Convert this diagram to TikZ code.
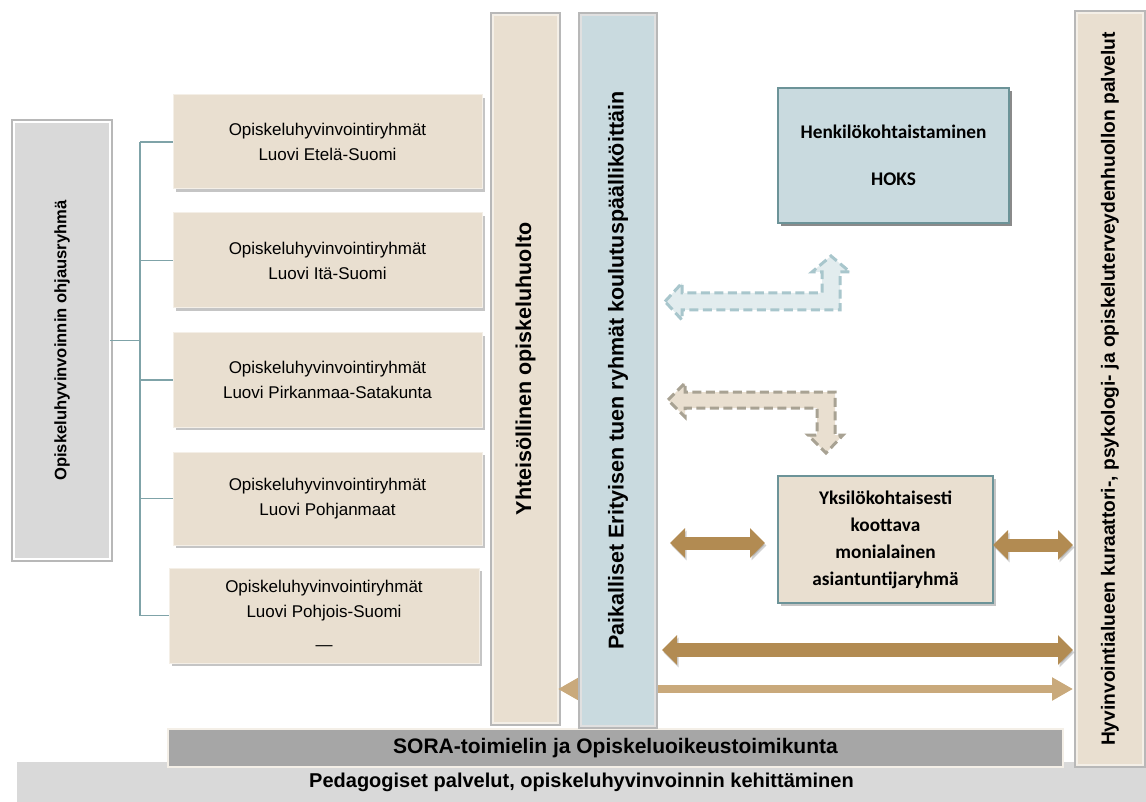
\documentclass[tikz,border=0pt]{standalone}
\usepackage{fontspec}
\setmainfont{Liberation Sans}
\newfontfamily\calib{Carlito}
\usepackage{graphicx}
\usetikzlibrary{shadows,arrows.meta,calc}

\definecolor{beige}{RGB}{233,223,208}
\definecolor{beigeline}{RGB}{244,239,231}
\definecolor{bluebox}{RGB}{201,218,223}
\definecolor{tealline}{RGB}{108,147,152}
\definecolor{treec}{RGB}{127,163,168}
\definecolor{goldc}{RGB}{178,139,82}
\definecolor{tanc}{RGB}{201,169,123}
\definecolor{soragray}{RGB}{166,166,166}
\definecolor{lgray}{RGB}{217,217,217}
\definecolor{dashblue}{RGB}{168,198,204}
\definecolor{dashbluefill}{RGB}{226,236,238}
\definecolor{dashtan}{RGB}{168,162,147}

\begin{document}
\begin{tikzpicture}[x=1pt,y=-1pt,
  every node/.style={inner sep=0pt, outer sep=0pt, align=center},
  halo/.style={preaction={draw=black!28, line width=6pt}},
  dshadow/.style={drop shadow={shadow xshift=2.5pt, shadow yshift=-3pt, opacity=.5, fill=black!45}},
  regbox/.style={fill=beige, draw=beigeline, line width=1pt, dshadow, font=\fontsize{17}{25}\selectfont},
  ctrlbox/.style={fill=lgray, draw=white, line width=2pt, halo, font=\bfseries\fontsize{16.6}{20}\selectfont},
  yhtbox/.style={fill=beige, draw=beigeline, line width=2pt, halo, font=\bfseries\fontsize{21.5}{26}\selectfont},
  paibox/.style={fill=bluebox, draw=black!12, line width=1.5pt, halo, font=\bfseries\fontsize{21.5}{26}\selectfont},
  hyvbox/.style={fill=beige, draw=beigeline, line width=2pt, halo, font=\bfseries\fontsize{19.2}{24}\selectfont},
  hoksbox/.style={fill=bluebox, draw=tealline, line width=1.2pt,
    drop shadow={shadow xshift=3pt, shadow yshift=-3pt, opacity=.7, fill=black!65},
    font=\calib\bfseries\fontsize{19.3}{47}\selectfont},
  yksbox/.style={fill=beige, draw=tealline, line width=1.5pt,
    drop shadow={shadow xshift=2.5pt, shadow yshift=-3pt, opacity=.45, fill=black!50},
    font=\calib\bfseries\fontsize{19.3}{27}\selectfont},
  sorabar/.style={fill=soragray, draw=beigeline, line width=2pt, font=\bfseries\fontsize{21}{25}\selectfont},
  pedbar/.style={fill=lgray, font=\bfseries\fontsize{20}{24}\selectfont},
  treeline/.style={draw=treec, line width=1.2pt},
  goldarr/.style={draw=goldc, line width=13pt, {Triangle[width=29pt,length=15pt]}-{Triangle[width=29pt,length=15pt]},
    preaction={draw=black!45, opacity=.4, transform canvas={shift={(1.5pt,-2.5pt)}}}},
  thinarr/.style={draw=tanc, line width=8pt, {Triangle[width=22pt,length=21pt]}-{Triangle[width=22pt,length=21pt]}},
  dashblue/.style={fill=dashbluefill, draw=dashblue, line width=3pt, dash pattern=on 9pt off 4.5pt, line join=miter},
  dashtan/.style={fill=beige, draw=dashtan, line width=3pt, dash pattern=on 9pt off 4.5pt, line join=miter}
]
\useasboundingbox (0,0) rectangle (1146,802);
\fill[white] (0,0) rectangle (1146,802);

% bottom bars
\node[pedbar, minimum width=1129pt, minimum height=40pt] (ped) at (581.5,782)
  {Pedagogiset palvelut, opiskeluhyvinvoinnin kehittäminen};
\node[sorabar, minimum width=895pt, minimum height=38pt] (sora) at (615.5,748)
  {SORA-toimielin ja Opiskeluoikeustoimikunta};

% steering group
\node[ctrlbox, minimum width=96pt, minimum height=437pt] (ctrl) at (62,340.5)
  {\rotatebox{90}{Opiskeluhyvinvoinnin ohjausryhmä}};

% regional groups
\node[regbox, minimum width=309pt, minimum height=94pt] (g1) at (327.5,142)
  {Opiskeluhyvinvointiryhmät\\Luovi Etelä-Suomi};
\node[regbox, minimum width=309pt, minimum height=95pt] (g2) at (327.5,260.5)
  {Opiskeluhyvinvointiryhmät\\Luovi Itä-Suomi};
\node[regbox, minimum width=309pt, minimum height=94pt] (g3) at (327.5,380)
  {Opiskeluhyvinvointiryhmät\\Luovi Pirkanmaa-Satakunta};
\node[regbox, minimum width=309pt, minimum height=93pt] (g4) at (327.5,498.5)
  {Opiskeluhyvinvointiryhmät\\Luovi Pohjanmaat};
\node[regbox, minimum width=310pt, minimum height=95pt] (g5) at (324,615.5)
  {Opiskeluhyvinvointiryhmät\\Luovi Pohjois-Suomi\\[8pt]—};

% tree
\coordinate (j) at (140,340.5);
\draw[treeline] (ctrl.east) -- (j);
\draw[treeline] (j |- g1.west) -- (j |- g5.west);
\foreach \g in {g1,g2,g3,g4,g5} {
  \draw[treeline] (j |- \g.west) -- (\g.west);
}

% vertical columns
\node[yhtbox, minimum width=65pt, minimum height=708pt] (yht) at (525.5,369)
  {\rotatebox{90}{Yhteisöllinen opiskeluhuolto}};
\node[hyvbox, minimum width=66pt, minimum height=752pt] (hyv) at (1110,389)
  {\rotatebox{90}{Hyvinvointialueen kuraattori-, psykologi- ja opiskeluterveydenhuollon palvelut}};

% thin arrow behind the blue column
\draw[thinarr] (yht.east |- 0,689) -- ([xshift=-4pt]hyv.west |- 0,689);

\node[paibox, minimum width=74pt, minimum height=711pt] (pai) at (618,370.5)
  {\rotatebox{90}{Paikalliset Erityisen tuen ryhmät koulutuspäälliköittäin}};

% right-hand boxes
\node[hoksbox, minimum width=231pt, minimum height=135pt] (hoks) at (893.5,155.5)
  {Henkilökohtaistaminen\\HOKS};
\node[yksbox, minimum width=215pt, minimum height=127pt] (yks) at (885.5,539.5)
  {Yksilökohtaisesti\\koottava\\monialainen\\asiantuntijaryhmä};

% dashed L-shaped arrows
\draw[dashblue] (665,301.5) -- (682,283) -- (682,293) -- (822,293) -- (822,272) -- (812,272)
  -- (831,256) -- (850,272) -- (840,272) -- (840,310) -- (682,310) -- (682,320) -- cycle;
\draw[dashtan] (668,400) -- (685,383) -- (685,392) -- (835,392) -- (835,435) -- (843,435)
  -- (826,453) -- (808,435) -- (817,435) -- (817,408) -- (685,408) -- (685,417) -- cycle;

% gold arrows
\draw[goldarr] ([xshift=15pt]pai.east |- 0,543) -- ([xshift=-13pt]yks.west |- 0,543);
\draw[goldarr] (yks.east |- 0,545) -- ([xshift=-4pt]hyv.west |- 0,545);
\draw[goldarr, line width=14pt] ([xshift=7pt]pai.east |- 0,650) -- ([xshift=-4pt]hyv.west |- 0,650);
\end{tikzpicture}
\end{document}
